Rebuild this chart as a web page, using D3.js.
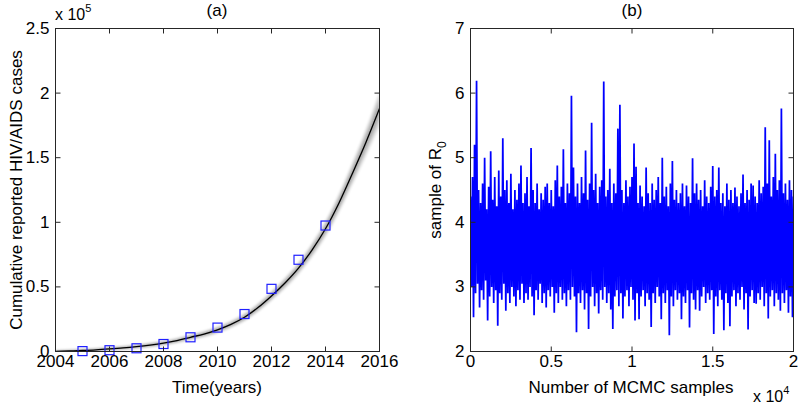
<!DOCTYPE html>
<html><head><meta charset="utf-8">
<script src="https://cdn.jsdelivr.net/npm/d3@7"></script>
<style>
body{margin:0;background:#fff}
text{font-family:"Liberation Sans",Arial,Helvetica,sans-serif;fill:#000;font-weight:400}
</style>
</head><body><svg id="c" width="798" height="404"></svg>
<script>
// ---- Panel (a) data (values in units of 1e5) ----
const years = [2005,2006,2007,2008,2009,2010,2011,2012,2013,2014];
const reported = [0.003,0.01,0.025,0.058,0.11,0.185,0.29,0.485,0.71,0.975];
const fitYears = [2004,2004.5,2005,2005.5,2006,2006.5,2007,2007.5,2008,2008.5,2009,2009.5,2010,2010.5,2011,2011.5,2012,2012.5,2013,2013.5,2014,2014.5,2015,2015.5,2016];
const fitValues = [0.0,0.004,0.008,0.013,0.02,0.028,0.038,0.05,0.065,0.085,0.11,0.135,0.168,0.21,0.265,0.34,0.43,0.53,0.645,0.785,0.95,1.15,1.38,1.62,1.88];
const bandHalf = [0.012,0.013,0.014,0.015,0.016,0.017,0.018,0.019,0.02,0.022,0.024,0.026,0.028,0.03,0.033,0.036,0.04,0.045,0.05,0.057,0.065,0.076,0.09,0.11,0.14];
const xTicksA = [2004,2006,2008,2010,2012,2014,2016];
const yTicksA = [0,0.5,1,1.5,2,2.5];
const yTickLabelsA = ["0","0.5","1","1.5","2","2.5"];

// ---- Panel (b) data: MCMC trace envelope (alternating peaks / troughs) ----
const traceHigh = [4.4,4.7,5.2,6.19,4.5,4.3,4.6,5.0,4.2,4.55,5.1,4.35,4.7,4.25,4.8,4.4,5.3,4.5,4.65,4.3,
4.75,4.2,4.5,4.35,4.6,4.88,4.3,4.45,4.7,4.25,5.15,4.5,4.3,4.6,4.2,4.45,4.35,4.55,4.6,4.3,
4.5,4.25,4.65,4.88,4.4,4.55,5.13,4.3,4.6,4.45,5.96,4.85,4.4,4.6,4.3,4.7,4.45,5.11,4.35,4.6,
5.54,4.5,4.75,4.3,4.55,4.65,6.18,4.4,4.5,4.83,4.3,4.6,4.45,5.45,5.82,4.5,4.3,4.65,4.4,4.55,
4.7,5.22,4.86,4.3,4.57,4.4,4.25,4.85,4.45,4.3,4.6,4.35,4.5,4.7,4.3,5.0,4.4,4.55,4.25,4.6,
4.95,4.35,4.5,4.3,4.45,4.6,4.25,4.57,4.4,4.3,4.99,4.45,4.6,4.35,4.5,4.25,4.65,4.4,4.3,4.55,
4.87,4.4,4.5,4.85,4.3,4.45,4.25,4.6,4.35,4.5,4.3,4.54,4.4,4.25,4.45,4.74,4.3,4.5,4.35,4.6,
4.57,4.4,4.3,4.65,4.45,4.55,5.47,4.6,5.27,4.4,4.7,5.06,4.5,4.65,5.76,4.45,4.6,4.35,4.65,4.5,4.4];
const traceLow = [3.0,2.53,2.9,3.05,2.68,2.95,2.8,3.1,2.48,2.85,3.0,2.75,2.95,2.4,2.9,2.8,3.05,2.63,2.9,2.75,
3.0,2.85,2.7,2.95,2.8,3.05,2.75,2.9,2.8,3.0,2.85,2.56,2.95,2.8,3.05,2.75,2.9,2.68,2.95,2.85,
3.0,2.6,2.9,2.75,3.0,2.8,2.9,2.7,2.95,2.8,3.0,2.85,2.3,2.9,2.75,2.95,2.65,2.9,2.35,2.85,
3.0,2.7,2.9,2.59,2.95,2.8,3.0,2.75,2.9,2.65,2.35,2.85,2.95,2.7,2.9,2.51,2.85,2.95,2.7,3.0,
2.8,2.48,2.9,2.5,2.85,2.95,2.7,2.9,2.8,2.38,2.9,2.75,3.0,2.85,2.5,2.9,2.75,2.95,2.25,2.85,
2.7,2.95,2.8,2.9,2.5,2.85,2.75,2.95,2.37,2.9,2.8,2.65,2.95,2.63,2.85,3.0,2.75,2.9,2.8,2.95,
2.27,2.85,2.7,2.95,2.8,2.33,2.9,2.75,2.39,2.85,2.95,2.7,2.9,2.8,3.0,2.65,2.9,2.34,2.85,2.95,
2.75,2.74,2.9,2.8,3.0,2.7,2.9,2.51,2.85,2.95,2.7,2.9,2.8,2.63,2.9,2.75,2.95,2.6,2.85,2.53,2.9];
const totalSamples = 20000;
const xTicksB = [0,5000,10000,15000,20000];
const xTickLabelsB = ["0","0.5","1","1.5","2"];
const yTicksB = [2,3,4,5,6,7];

const svg = d3.select("#c");
const FS = 17;
const axisColor = "#262626";

function frame(g, x, y, xt, xtl, yt, ytl) {
  const [x0,x1] = x.range(), [y1,y0] = y.range();
  const tk = 5;
  const ax = g.append("g");
  ax.append("rect").attr("x",x0).attr("y",y0).attr("width",x1-x0).attr("height",y1-y0)
    .attr("fill","none").attr("stroke",axisColor).attr("stroke-width",1);
  xt.forEach((t,i)=>{
    const px = x(t);
    ax.append("line").attr("x1",px).attr("x2",px).attr("y1",y1).attr("y2",y1-tk).attr("stroke",axisColor);
    ax.append("line").attr("x1",px).attr("x2",px).attr("y1",y0).attr("y2",y0+tk).attr("stroke",axisColor);
    ax.append("text").attr("x",px).attr("y",y1+15).attr("text-anchor","middle").attr("font-size",FS).text(xtl[i]);
  });
  yt.forEach((t,i)=>{
    const py = y(t);
    ax.append("line").attr("x1",x0).attr("x2",x0+tk).attr("y1",py).attr("y2",py).attr("stroke",axisColor);
    ax.append("line").attr("x1",x1).attr("x2",x1-tk).attr("y1",py).attr("y2",py).attr("stroke",axisColor);
    ax.append("text").attr("x",x0-6).attr("y",py+5.5).attr("text-anchor","end").attr("font-size",FS).text(ytl[i]);
  });
}

// ---------- Panel (a) ----------
const xa = d3.scaleLinear().domain([2004,2016]).range([55.5,379.5]);
const ya = d3.scaleLinear().domain([0,2.5]).range([351.5,28.5]);
const ga = svg.append("g");
const defs = svg.append("defs");
defs.append("clipPath").attr("id","clipA").append("rect")
  .attr("x",55.5).attr("y",28.5).attr("width",324).attr("height",323);
defs.append("clipPath").attr("id","clipB").append("rect")
  .attr("x",470.5).attr("y",28.5).attr("width",323).attr("height",323);
defs.append("filter").attr("id","blur").attr("x","-10%").attr("y","-10%").attr("width","120%").attr("height","120%")
  .append("feGaussianBlur").attr("stdDeviation",1.3);

const fitData = fitYears.map((t,i)=>({t, v: fitValues[i], h: bandHalf[i]}));
const bandG = ga.append("g").attr("clip-path","url(#clipA)").append("g").attr("filter","url(#blur)");
[1,0.75,0.5,0.3].forEach(f=>{
  bandG.append("path").datum(fitData)
    .attr("d", d3.area().curve(d3.curveMonotoneX)
      .x(d=>xa(d.t)).y0(d=>ya(d.v - d.h*f)).y1(d=>ya(d.v + d.h*f)))
    .attr("fill","#000").attr("fill-opacity",0.1);
});
ga.append("g").attr("clip-path","url(#clipA)").append("path").datum(fitData)
  .attr("d", d3.line().curve(d3.curveMonotoneX).x(d=>xa(d.t)).y(d=>ya(d.v)))
  .attr("fill","none").attr("stroke","#000").attr("stroke-width",1.3);

const sq = 9;
ga.selectAll("rect.pt").data(years).enter().append("rect").attr("class","pt")
  .attr("x",(d)=>xa(d)-sq/2).attr("y",(d,i)=>ya(reported[i])-sq/2)
  .attr("width",sq).attr("height",sq)
  .attr("fill","none").attr("stroke","#2020ff").attr("stroke-width",1.2);

frame(ga, xa, ya, xTicksA, xTicksA.map(String), yTicksA, yTickLabelsA);

ga.append("text").attr("x",217).attr("y",16).attr("text-anchor","middle").attr("font-size",FS).text("(a)");
ga.append("text").attr("x",217).attr("y",393).attr("text-anchor","middle").attr("font-size",FS).text("Time(years)");
ga.append("text").attr("transform","translate(22,190) rotate(-90)").attr("text-anchor","middle")
  .attr("font-size",FS).text("Cumulative reported HIV/AIDS cases");
const ea = ga.append("text").attr("x",55).attr("y",20).attr("font-size",FS-1);
ea.append("tspan").text("x 10");
ea.append("tspan").attr("dy",-8).attr("font-size",11).text("5");

// ---------- Panel (b) ----------
const xb = d3.scaleLinear().domain([0,totalSamples]).range([470.5,793.5]);
const yb = d3.scaleLinear().domain([2,7]).range([351.5,28.5]);
const gb = svg.append("g");
const step = totalSamples/(traceHigh.length-1);
const pts = [];
traceHigh.forEach((v,i)=>{
  pts.push([i*step, v]);
  if (i < traceLow.length) pts.push([i*step + step/2, traceLow[i]]);
});
gb.append("g").attr("clip-path","url(#clipB)").append("path").datum(pts)
  .attr("d", d3.line().x(d=>xb(d[0])).y(d=>yb(d[1])))
  .attr("fill","none").attr("stroke","#0000ff").attr("stroke-width",1.75).attr("stroke-linejoin","bevel");

frame(gb, xb, yb, xTicksB, xTickLabelsB, yTicksB, yTicksB.map(String));

gb.append("text").attr("x",632).attr("y",16).attr("text-anchor","middle").attr("font-size",FS).text("(b)");
gb.append("text").attr("x",631).attr("y",393).attr("text-anchor","middle").attr("font-size",FS).text("Number of MCMC samples");
const yl = gb.append("text").attr("transform","translate(441,190) rotate(-90)").attr("text-anchor","middle").attr("font-size",FS);
yl.append("tspan").text("sample of R");
yl.append("tspan").attr("dy",5).attr("font-size",12).text("0");
const eb = gb.append("text").attr("x",753).attr("y",402).attr("font-size",FS-1);
eb.append("tspan").text("x 10");
eb.append("tspan").attr("dy",-8).attr("font-size",11).text("4");
</script>
</body></html>
